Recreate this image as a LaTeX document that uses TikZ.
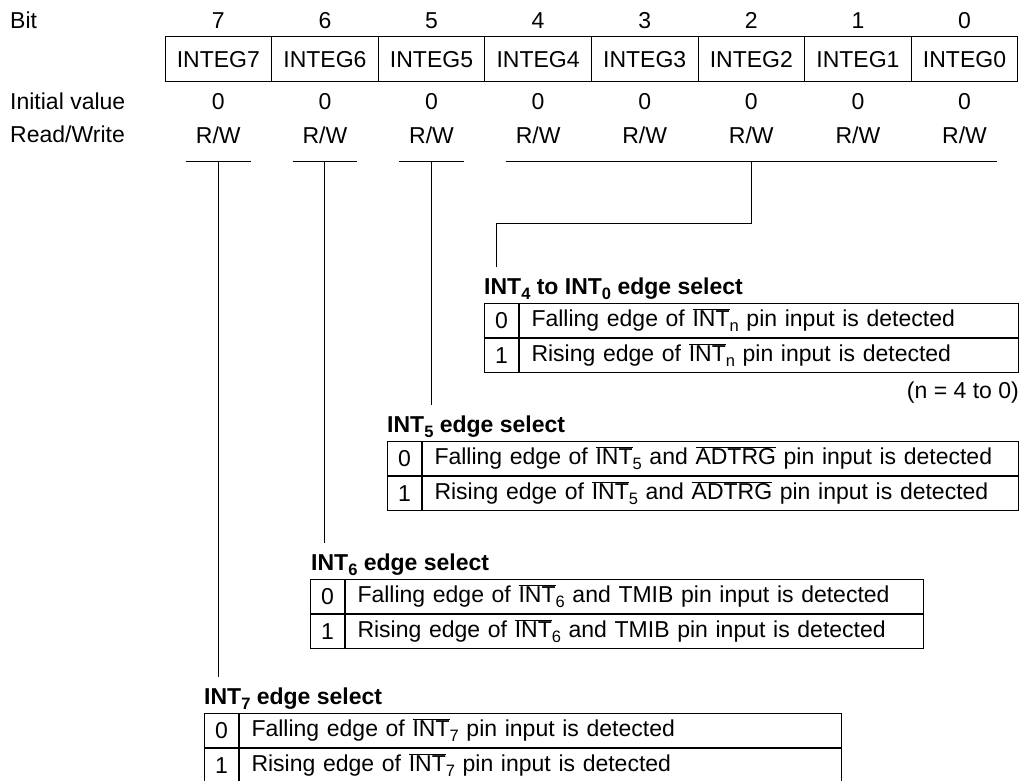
\documentclass[tikz,border=0pt]{standalone}
\usepackage{fontspec}
\setmainfont{Liberation Sans}
\usetikzlibrary{positioning}

\newcommand{\pinbar}[1]{$\overline{\hbox{#1}}$}
\newcommand{\lowidx}[1]{\raisebox{-0.22em}{\fontsize{16.5}{16.5}\selectfont #1}}

\tikzset{
  every node/.style={font=\fontsize{23}{27}\selectfont, inner sep=0pt},
  rowlabel/.style={anchor=base west},
  bitlabel/.style={anchor=base},
  regcell/.style={draw, line width=1pt, minimum width=106.6pt, minimum height=45pt},
  rwcell/.style={minimum width=64pt, minimum height=52pt},
  selhead/.style={anchor=base west, font=\fontsize{23}{27}\selectfont\bfseries},
  numcell/.style={draw, line width=1pt, anchor=north west, minimum width=34pt, minimum height=34pt},
  txtcell/.style={draw, line width=1pt, anchor=north west, minimum height=34pt,
    inner xsep=12pt, text width=#1, align=left},
  wire/.style={line width=1pt},
}

\begin{document}
\begin{tikzpicture}[x=1pt, y=-1pt]
  \useasboundingbox (0,0) rectangle (1021,781);

  % register layout
  \node[rowlabel] (bit) at (10,29) {Bit};
  \node[rowlabel] (init) at (10,110) {Initial value};
  \node[rowlabel] (rw) at (10,143) {Read/Write};
  \foreach \b [count=\c from 0] in {7,...,0} {
    \node[bitlabel] (n\b) at ({218.3+106.6*\c},29) {\b};
    \node[regcell] (r\b) at ({218.3+106.6*\c},59.5) {INTEG\b};
    \node[bitlabel] (v\b) at ({218.3+106.6*\c},110) {0};
    \node[rwcell] (a\b) at ({218.3+106.6*\c},135) {R/W};
  }
  \foreach \b in {7,6,5}
    \draw[wire] (a\b.south west) -- (a\b.south east);
  \draw[wire] (a4.south west) -- (a0.south east);

  % INT4 to INT0
  \node[selhead] (h40) at (484,294) {INT\lowidx{4} to INT\lowidx{0} edge select};
  \node[numcell] (s40a) at (484,303) {0};
  \node[txtcell=475pt] (s40b) at (s40a.north east) {Falling edge of \pinbar{INT}\lowidx{n} pin input is detected};
  \node[numcell] (s40c) at (s40a.south west) {1};
  \node[txtcell=475pt] (s40d) at (s40c.north east) {Rising edge of \pinbar{INT}\lowidx{n} pin input is detected};
  \node[anchor=base east] (note) at (1019,398) {(n = 4 to 0)};

  % INT5
  \node[selhead] (h5) at (387,432) {INT\lowidx{5} edge select};
  \node[numcell] (s5a) at (387,441) {0};
  \node[txtcell=572pt] (s5b) at (s5a.north east) {Falling edge of \pinbar{INT}\lowidx{5} and \pinbar{ADTRG} pin input is detected};
  \node[numcell] (s5c) at (s5a.south west) {1};
  \node[txtcell=572pt] (s5d) at (s5c.north east) {Rising edge of \pinbar{INT}\lowidx{5} and \pinbar{ADTRG} pin input is detected};

  % INT6
  \node[selhead] (h6) at (311,570) {INT\lowidx{6} edge select};
  \node[numcell] (s6a) at (310,579) {0};
  \node[txtcell=554pt] (s6b) at (s6a.north east) {Falling edge of \pinbar{INT}\lowidx{6} and TMIB pin input is detected};
  \node[numcell] (s6c) at (s6a.south west) {1};
  \node[txtcell=554pt] (s6d) at (s6c.north east) {Rising edge of \pinbar{INT}\lowidx{6} and TMIB pin input is detected};

  % INT7
  \node[selhead] (h7) at (204,704) {INT\lowidx{7} edge select};
  \node[numcell] (s7a) at (204,713) {0};
  \node[txtcell=578pt] (s7b) at (s7a.north east) {Falling edge of \pinbar{INT}\lowidx{7} pin input is detected};
  \node[numcell] (s7c) at (s7a.south west) {1};
  \node[txtcell=578pt] (s7d) at (s7c.north east) {Rising edge of \pinbar{INT}\lowidx{7} pin input is detected};

  % connectors
  \coordinate (e40) at ([xshift=12pt,yshift=10pt]h40.north west);
  \coordinate (e5) at ([yshift=10pt]h5.north);
  \coordinate (e6) at ([yshift=10pt]h6.north);
  \coordinate (e7) at ([yshift=10pt]h7.north);
  \draw[wire] (a2.south) -- ++(0,62) -| (e40);
  \draw[wire] (a5.south) -- (a5.south |- e5);
  \draw[wire] (a6.south) -- (a6.south |- e6);
  \draw[wire] (a7.south) -- (a7.south |- e7);
\end{tikzpicture}
\end{document}
